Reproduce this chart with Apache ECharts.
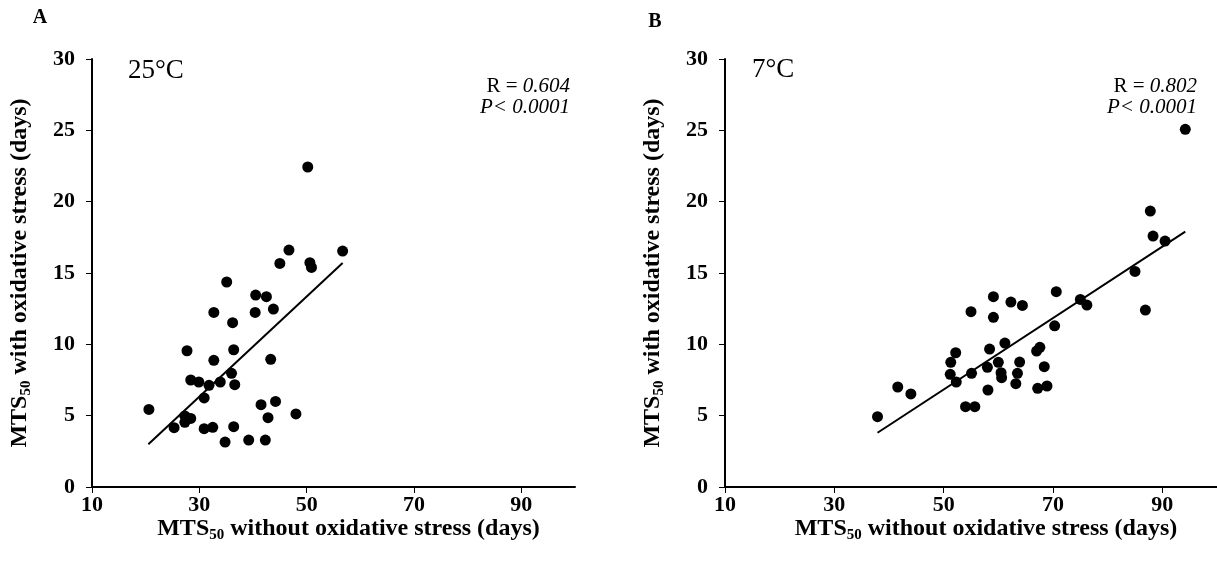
<!DOCTYPE html>
<html>
<head>
<meta charset="utf-8">
<script src="https://cdn.jsdelivr.net/npm/echarts@6/dist/echarts.min.js"></script>
<style>
  html, body { margin: 0; padding: 0; background: #fff; }
  #chart { width: 1217px; height: 565px; }
</style>
</head>
<body>
<div id="chart"></div>
<script>
// MTS50 with vs. without oxidative stress, [without, with] in days
const points25C = [
  [20.6, 5.44], [25.3, 4.16], [27.3, 4.98], [27.3, 4.53], [28.4, 4.81],
  [27.7, 9.55], [28.4, 7.50], [29.9, 7.36], [30.9, 6.24], [30.9, 4.09],
  [31.8, 7.13], [32.5, 4.18], [32.7, 12.24], [32.7, 8.88], [33.9, 7.36],
  [34.8, 3.15], [35.1, 14.37], [36.0, 7.97], [36.2, 11.52], [36.4, 9.62],
  [36.6, 7.17], [36.4, 4.23], [39.2, 3.29], [40.4, 12.24], [40.5, 13.45],
  [41.5, 5.77], [42.3, 3.29], [42.5, 13.34], [42.8, 4.86], [43.3, 8.95],
  [43.8, 12.47], [44.2, 6.00], [45.0, 15.67], [46.7, 16.61], [48.0, 5.12],
  [50.6, 15.72], [50.9, 15.39], [56.7, 16.54], [50.2, 22.43]
];
const points7C = [
  [37.9, 4.93], [41.6, 7.01], [44.0, 6.52], [51.3, 8.74], [52.2, 9.41],
  [51.2, 7.90], [52.3, 7.36], [54.0, 5.63], [55.7, 5.63], [55.0, 12.29],
  [55.1, 7.97], [58.0, 8.39], [58.1, 6.80], [58.4, 9.67], [59.1, 13.34],
  [59.1, 11.89], [60.0, 8.74], [60.5, 8.01], [60.6, 7.66], [61.2, 10.09],
  [62.3, 12.96], [63.2, 7.24], [63.5, 7.97], [63.9, 8.76], [64.4, 12.73],
  [67.0, 9.53], [67.6, 9.79], [67.2, 6.92], [68.4, 8.43], [68.9, 7.08],
  [70.3, 11.30], [70.6, 13.69], [75.0, 13.15], [76.2, 12.75], [85.0, 15.11],
  [86.9, 12.40], [87.8, 19.34], [88.3, 17.59], [90.5, 17.24], [94.2, 25.07]
];
// fitted regression lines (end points)
const fit25C = [[20.5, 3.0], [56.7, 15.7]];
const fit7C = [[37.9, 3.8], [94.2, 17.9]];

const xTickValues = [10, 30, 50, 70, 90];
const yTickValues = [0, 5, 10, 15, 20, 25, 30];
const panelLetters = ['A', 'B'];
const tempLabels = ['25\u00B0C', '7\u00B0C'];
const rValues = ['0.604', '0.802'];
const pValues = ['0.0001', '0.0001'];

const FONT = 'Liberation Serif';
const xName = '{b|MTS}{s|50}{b| without oxidative stress (days)}';
const yName = '{b|MTS}{s|50}{b| with oxidative stress (days)}';
const nameRich = {
  b: { fontFamily: FONT, fontWeight: 'bold', fontSize: 24, color: '#000', lineHeight: 28, verticalAlign: 'middle' },
  s: { fontFamily: FONT, fontWeight: 'bold', fontSize: 15, color: '#000', lineHeight: 15, verticalAlign: 'bottom' }
};

const grids = [
  { left: 92, top: 59, width: 483, height: 428 },
  { left: 725, top: 59, width: 494, height: 428 }
];

function makeX(i) {
  return {
    gridIndex: i, type: 'value', min: 10, max: 100, interval: 20,
    name: xName, nameLocation: 'middle', nameGap: 28, nameMoveOverlap: false,
    nameTextStyle: { rich: nameRich, padding: [0, 0, 0, 30] },
    axisLine: { lineStyle: { color: '#000', width: 2 } },
    axisTick: { show: true, inside: false, length: 6, customValues: xTickValues, lineStyle: { color: '#000', width: 1 } },
    axisLabel: { customValues: xTickValues, margin: 7, fontFamily: FONT, fontWeight: 'bold', fontSize: 22, color: '#000' },
    splitLine: { show: false }
  };
}
function makeY(i) {
  return {
    gridIndex: i, type: 'value', min: 0, max: 30, interval: 5,
    name: yName, nameLocation: 'middle', nameGap: 58, nameRotate: 90, nameMoveOverlap: false,
    nameTextStyle: { rich: nameRich },
    axisLine: { show: true, lineStyle: { color: '#000', width: 2 } },
    axisTick: { show: true, inside: false, length: 6, lineStyle: { color: '#000', width: 1 } },
    axisLabel: { margin: 17, fontFamily: FONT, fontWeight: 'bold', fontSize: 22, color: '#000' },
    splitLine: { show: false }
  };
}

function scatter(i, data) {
  return {
    type: 'scatter', xAxisIndex: i, yAxisIndex: i, data: data,
    symbol: 'circle', symbolSize: 11, itemStyle: { color: '#000', opacity: 1 }, z: 3
  };
}
function fitLine(i, data) {
  return {
    type: 'line', xAxisIndex: i, yAxisIndex: i, data: data,
    symbol: 'none', lineStyle: { color: '#000', width: 2 }, z: 2, silent: true
  };
}

const textPos = [
  { letter: [40, 18], temp: [128, 71], stats: [570, 76] },
  { letter: [655, 22], temp: [752, 70], stats: [1197, 76] }
];
const graphics = [];
textPos.forEach((p, i) => {
  graphics.push({
    type: 'text', x: p.letter[0], y: p.letter[1],
    style: { text: panelLetters[i], fontFamily: FONT, fontWeight: 'bold', fontSize: 20, fill: '#000', align: 'center', verticalAlign: 'middle' }
  });
  graphics.push({
    type: 'text', x: p.temp[0], y: p.temp[1],
    style: { text: tempLabels[i], fontFamily: FONT, fontSize: 27, fill: '#000', align: 'left', verticalAlign: 'middle' }
  });
  graphics.push({
    type: 'text', x: p.stats[0], y: p.stats[1],
    style: {
      text: '{n|R = }{i|' + rValues[i] + '}\n{i|P< ' + pValues[i] + '}',
      align: 'right', verticalAlign: 'top',
      rich: {
        n: { fontFamily: FONT, fontSize: 21, fill: '#000', lineHeight: 21 },
        i: { fontFamily: FONT, fontSize: 21, fontStyle: 'italic', fill: '#000', lineHeight: 21 }
      }
    }
  });
});

const chart = echarts.init(document.getElementById('chart'), null, { renderer: 'canvas' });
chart.setOption({
  animation: false,
  backgroundColor: '#fff',
  grid: grids,
  xAxis: [makeX(0), makeX(1)],
  yAxis: [makeY(0), makeY(1)],
  series: [
    fitLine(0, fit25C), scatter(0, points25C),
    fitLine(1, fit7C), scatter(1, points7C)
  ],
  graphic: graphics
});
</script>
</body>
</html>
